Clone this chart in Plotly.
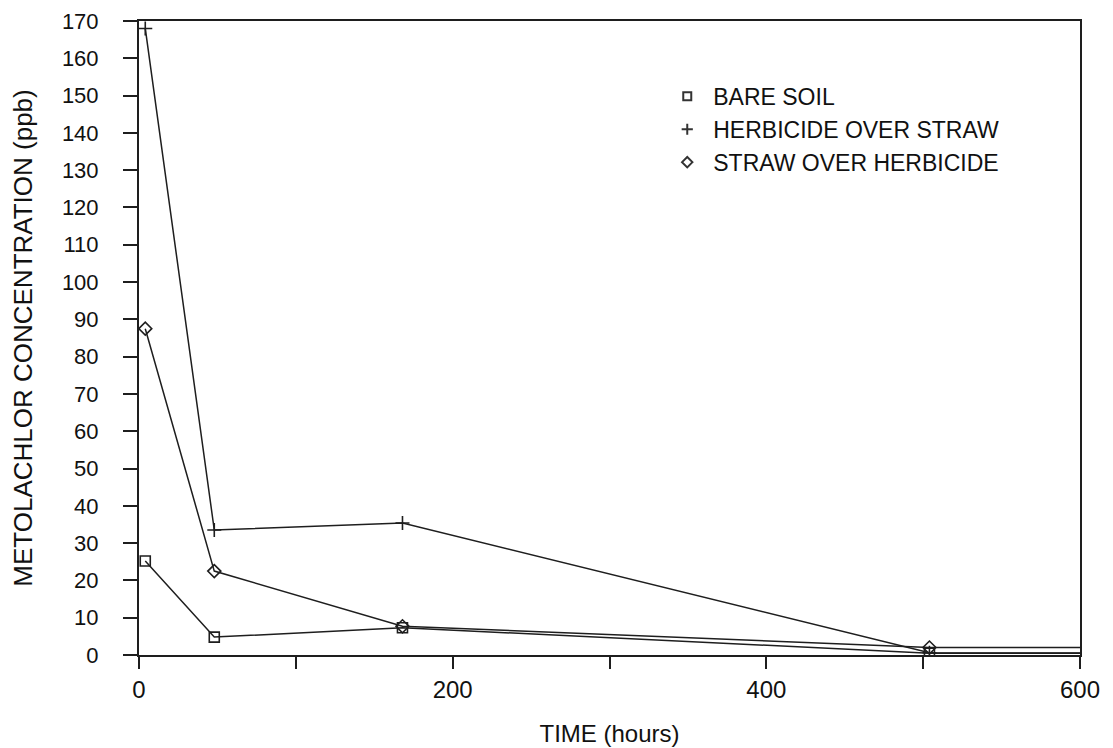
import plotly.graph_objects as go

time_hours = [4, 48, 168, 504, 672]
bare_soil = [25.2, 4.8, 7.3, 0.5, 0.4]
herbicide_over_straw = [168, 33.5, 35.4, 0.6, 0.5]
straw_over_herbicide = [87.5, 22.5, 7.7, 2.0, 2.0]

series_names = ["BARE SOIL", "HERBICIDE OVER STRAW", "STRAW OVER HERBICIDE"]
series_values = [bare_soil, herbicide_over_straw, straw_over_herbicide]
series_symbols = ["square-open", "cross-thin", "diamond-open"]

x_tick_vals = [0, 100, 200, 300, 400, 500, 600]
x_tick_text = ["0", "", "200", "", "400", "", "600"]
y_tick_vals = list(range(0, 171, 10))

font_family = "Liberation Sans, Arial, sans-serif"
ink = "#1e1e1e"

fig = go.Figure()
for name, vals, sym in zip(series_names, series_values, series_symbols):
    fig.add_trace(go.Scatter(
        x=time_hours, y=vals, mode="lines+markers", name=name,
        line=dict(color=ink, width=1.5),
        marker=dict(symbol=sym, size=10, color=ink, line=dict(width=1.6, color=ink)),
        showlegend=False, cliponaxis=True,
    ))
    fig.add_trace(go.Scatter(
        x=[None], y=[None], mode="markers", name=name,
        marker=dict(symbol=sym, size=8, color="#333", line=dict(width=2, color="#333")),
        showlegend=True,
    ))

fig.update_layout(
    width=1113, height=748,
    paper_bgcolor="white", plot_bgcolor="white",
    margin=dict(l=131, r=41, t=13, b=101),
    font=dict(family=font_family, size=22, color="#111"),
    legend=dict(x=0.555, y=0.915, xanchor="left", yanchor="top",
                bgcolor="rgba(0,0,0,0)", font=dict(size=23, color="#111"),
                itemwidth=42),
    xaxis=dict(range=[0, 600], tickvals=x_tick_vals, ticktext=x_tick_text,
               ticks="outside", ticklen=12, tickwidth=2, tickcolor=ink,
               ticklabelstandoff=0, automargin=False,
               showline=True, linecolor=ink, linewidth=2, mirror=True,
               showgrid=False, zeroline=False,
               title=dict(text="TIME (hours)", font=dict(size=24), standoff=23),
               tickfont=dict(size=24)),
    yaxis=dict(range=[0, 170], tickvals=y_tick_vals,
               ticks="outside", ticklen=14, tickwidth=2, tickcolor=ink,
               ticklabelstandoff=20, automargin=False,
               showline=True, linecolor=ink, linewidth=2, mirror=True,
               showgrid=False, zeroline=False,
               title=dict(text="METOLACHLOR CONCENTRATION (ppb)", font=dict(size=26), standoff=24),
               tickfont=dict(size=22)),
)

fig.write_html("out.html")
